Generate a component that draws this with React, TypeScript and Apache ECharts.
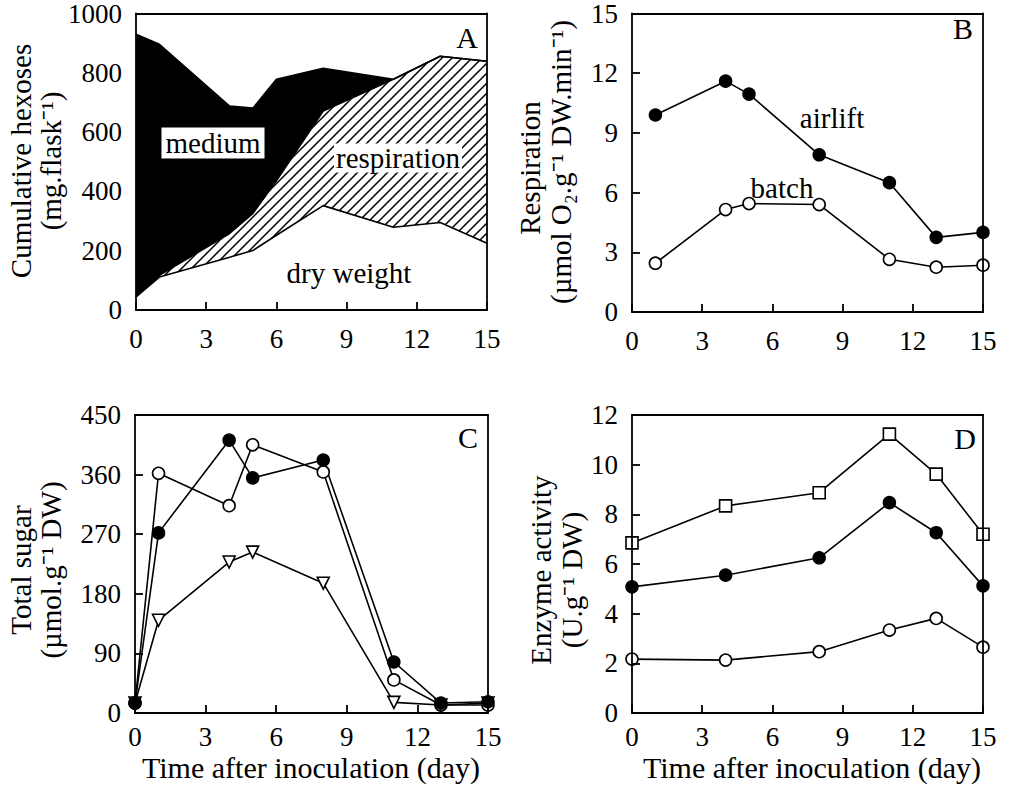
import React, { useEffect, useRef } from "react";
import * as echarts from "echarts";

// Panel A: cumulative hexoses (boundaries of stacked regions, mg/flask)
const hexDays = [0, 1, 4, 5, 6, 8, 11, 13, 15];
const dryWeight = [44, 111, 178, 201, 252, 352, 279, 295, 225];
const respirationTop = [44, 117, 258, 326, 436, 671, 778, 856, 839];
const mediumTop = [930, 896, 688, 681, 778, 815, 778, 856, 839];

// Panel B: respiration
const respDays = [1, 4, 5, 8, 11, 13, 15];
const airlift = [9.9, 11.6, 10.95, 7.9, 6.5, 3.75, 4.0];
const batch = [2.45, 5.15, 5.45, 5.4, 2.65, 2.25, 2.35];

// Panel C: total sugar
const sugarDays = [0, 1, 4, 5, 8, 11, 13, 15];
const sugarFilled = [15, 272, 412, 355, 382, 77, 15, 17];
const sugarOpen = [15, 362, 313, 405, 364, 50, 12, 12];
const sugarTriangle = [15, 140, 228, 243, 196, 16, 12, 15];

// Panel D: enzyme activity
const enzymeDays = [0, 4, 8, 11, 13, 15];
const enzymeSquare = [6.85, 8.34, 8.87, 11.23, 9.62, 7.2];
const enzymeFilled = [5.08, 5.55, 6.25, 8.47, 7.26, 5.12];
const enzymeOpen = [2.17, 2.13, 2.47, 3.34, 3.81, 2.65];

const xTicks = { min: 0, max: 15, interval: 3 };
const yRanges = [
  { min: 0, max: 1000, interval: 200 },
  { min: 0, max: 15, interval: 3 },
  { min: 0, max: 450, interval: 90 },
  { min: 0, max: 12, interval: 2 },
];

const FONT = '"Liberation Serif", "Times New Roman", serif';

const pairs = (xs: number[], ys: number[]) => xs.map((x, i) => [x, ys[i]]);

function makeHatch() {
  const c = document.createElement("canvas");
  const s = 10;
  c.width = s;
  c.height = s;
  const ctx = c.getContext("2d")!;
  ctx.fillStyle = "#fff";
  ctx.fillRect(0, 0, s, s);
  ctx.strokeStyle = "#000";
  ctx.lineWidth = 1.5;
  ctx.beginPath();
  ctx.moveTo(-1, s + 1);
  ctx.lineTo(s + 1, -1);
  ctx.moveTo(-1, 1);
  ctx.lineTo(1, -1);
  ctx.moveTo(s - 1, s + 1);
  ctx.lineTo(s + 1, s - 1);
  ctx.stroke();
  return c;
}

export default function App() {
  const ref = useRef<HTMLDivElement>(null);
  useEffect(() => {
    if (!ref.current) return;
    const chart = echarts.init(ref.current, null, { renderer: "svg" });
    const hatch = makeHatch();

    const grids = [
      { left: 136, top: 12, width: 351, height: 298 },
      { left: 632, top: 12, width: 351, height: 300 },
      { left: 135, top: 415, width: 353, height: 298 },
      { left: 632, top: 415, width: 351, height: 298 },
    ];
    const axisLineStyle = { color: "#000", width: 1.8 };
    const xLabelMargins = [15, 15, 10, 10];

    const mainX = grids.map((_, i) => ({
      type: "value",
      gridIndex: i,
      ...xTicks,
      position: "bottom",
      z: 10,
      axisLine: { show: true, onZero: false, lineStyle: axisLineStyle },
      axisTick: { show: true, inside: true, length: 8, lineStyle: axisLineStyle },
      axisLabel: { color: "#000", fontFamily: FONT, fontSize: 27, margin: xLabelMargins[i] },
      splitLine: { show: false },
    }));
    const frameX = grids.map((_, i) => ({
      type: "value",
      gridIndex: i,
      ...xTicks,
      position: "top",
      z: 10,
      axisLine: { show: true, onZero: false, lineStyle: axisLineStyle },
      axisTick: { show: false },
      axisLabel: { show: false },
      splitLine: { show: false },
    }));
    const mainY = grids.map((_, i) => ({
      type: "value",
      gridIndex: i,
      ...yRanges[i],
      position: "left",
      z: 10,
      axisLine: { show: true, onZero: false, lineStyle: axisLineStyle },
      axisTick: { show: true, inside: true, length: 8, lineStyle: axisLineStyle },
      axisLabel: {
        color: "#000",
        fontFamily: FONT,
        fontSize: 27,
        margin: 14,
        formatter: (v: number) => String(v),
      },
      splitLine: { show: false },
    }));
    const frameY = grids.map((_, i) => ({
      type: "value",
      gridIndex: i,
      ...yRanges[i],
      position: "right",
      z: 10,
      axisLine: { show: true, onZero: false, lineStyle: axisLineStyle },
      axisTick: { show: false },
      axisLabel: { show: false },
      splitLine: { show: false },
    }));

    const lineStyle = { color: "#000", width: 1.6 };
    const filled = { color: "#000", borderColor: "#000", borderWidth: 1.5 };
    const open = { color: "#fff", borderColor: "#000", borderWidth: 1.6 };
    const markerSeries = (
      idx: number,
      xs: number[],
      ys: number[],
      symbol: string,
      itemStyle: any,
      extra: any = {}
    ) => ({
      type: "line",
      xAxisIndex: idx,
      yAxisIndex: idx,
      data: pairs(xs, ys),
      symbol,
      symbolSize: 12,
      showAllSymbol: true,
      color: "#000",
      lineStyle,
      itemStyle,
      ...extra,
    });

    const areaSeries = (ys: number[], fill: any) => ({
      type: "line",
      xAxisIndex: 0,
      yAxisIndex: 0,
      data: pairs(hexDays, ys),
      symbol: "none",
      color: "#000",
      lineStyle,
      areaStyle: { color: fill, opacity: 1 },
    });

    const txt = (
      text: string,
      x: number,
      y: number,
      size: number,
      extra: any = {},
      rot = 0
    ) => ({
      type: "text",
      x,
      y,
      rotation: rot,
      z: 100,
      style: {
        text,
        font: `${size}px ${FONT}`,
        fill: "#000",
        align: "center",
        verticalAlign: "middle",
        textAlign: "center",
        textVerticalAlign: "middle",
        ...extra,
      },
    });
    const R = Math.PI / 2;

    chart.setOption({
      animation: false,
      backgroundColor: "#fff",
      grid: grids.map((g) => ({ ...g, containLabel: false })),
      xAxis: [...mainX, ...frameX],
      yAxis: [...mainY, ...frameY],
      series: [
        areaSeries(mediumTop, "#000"),
        areaSeries(respirationTop, {
          image: hatch,
          repeat: "repeat",
          imageWidth: 10,
          imageHeight: 10,
        }),
        areaSeries(dryWeight, "#fff"),
        markerSeries(1, respDays, airlift, "circle", filled),
        markerSeries(1, respDays, batch, "circle", open),
        markerSeries(2, sugarDays, sugarTriangle, "triangle", open, { symbolRotate: 180 }),
        markerSeries(2, sugarDays, sugarOpen, "circle", open),
        markerSeries(2, sugarDays, sugarFilled, "circle", filled),
        markerSeries(3, enzymeDays, enzymeSquare, "rect", open),
        markerSeries(3, enzymeDays, enzymeFilled, "circle", filled),
        markerSeries(3, enzymeDays, enzymeOpen, "circle", open),
      ],
      graphic: [
        txt("medium", 213, 143, 29, { backgroundColor: "#fff", padding: [1, 4] }),
        txt("respiration", 398, 158, 29, { backgroundColor: "#fff", padding: [0, 2] }),
        txt("dry weight", 349, 273, 29),
        txt("A", 467, 37, 30),
        txt("airlift", 832, 118, 29),
        txt("batch", 782, 188, 29),
        txt("B", 963, 28, 30),
        txt("C", 468, 437, 30),
        txt("D", 965, 438, 30),
        txt("Cumulative hexoses", 21, 161, 29, {}, R),
        txt("(mg.flask\u207B\u00B9)", 51, 161, 29, {}, R),
        txt("Respiration", 530, 168, 29, {}, R),
        txt("(\u00B5mol O\u2082.g\u207B\u00B9 DW.min\u207B\u00B9)", 561, 162, 29, {}, R),
        txt("Total sugar", 21, 570, 29, {}, R),
        txt("(\u00B5mol.g\u207B\u00B9 DW)", 51, 570, 29, {}, R),
        txt("Enzyme activity", 541, 570, 29, {}, R),
        txt("(U.g\u207B\u00B9 DW)", 572, 580, 29, {}, R),
        txt("Time after inoculation (day)", 311, 767, 30),
        txt("Time after inoculation (day)", 812, 767, 30),
      ],
    });
    return () => chart.dispose();
  }, []);
  return (
    <div
      ref={ref}
      style={{ position: "fixed", left: 0, top: 0, width: 1009, height: 802, background: "#fff" }}
    />
  );
}
